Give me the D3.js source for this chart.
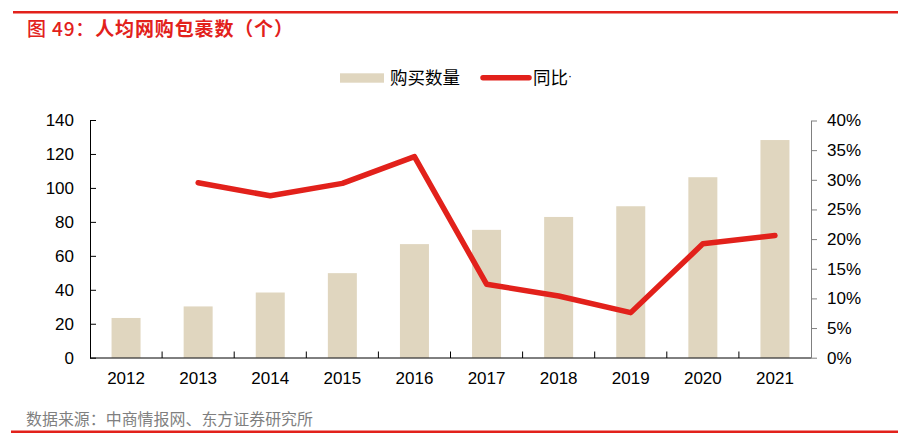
<!DOCTYPE html>
<html><head><meta charset="utf-8">
<script src="https://cdn.jsdelivr.net/npm/d3@7"></script>
<style>body{margin:0;background:#fff}svg{display:block}</style>
</head><body>
<script>
const years = ["2012","2013","2014","2015","2016","2017","2018","2019","2020","2021"];
const parcels = [23.4, 30.2, 38.4, 49.8, 66.9, 75.3, 82.9, 89.2, 106.3, 128.2];
const yoy = [null, 29.5, 27.3, 29.4, 33.9, 12.4, 10.4, 7.6, 19.2, 20.6];
const leftTicks = [0,20,40,60,80,100,120,140];
const rightTicks = [0,5,10,15,20,25,30,35,40];

const W=909,H=435;
const red="#e2211b", barColor="#e0d6bf";
const svg=d3.select("body").append("svg").attr("width",W).attr("height",H);
const numFont="'Liberation Sans', Arial, sans-serif";
const cjkFont="'Noto Sans CJK SC', sans-serif";

// frame lines
svg.append("line").attr("x1",13).attr("x2",898).attr("y1",12.3).attr("y2",12.3).attr("stroke",red).attr("stroke-width",2.5);
svg.append("line").attr("x1",11).attr("x2",898).attr("y1",431.7).attr("y2",431.7).attr("stroke",red).attr("stroke-width",2.5);

const title=svg.append("text").attr("x",27).attr("y",36).attr("fill",red).attr("font-family",cjkFont)
  .attr("font-size",19).attr("textLength",266).attr("lengthAdjust","spacing");
title.append("tspan").attr("font-weight","500").text("图 49：");
title.append("tspan").attr("font-weight","bold").text("人均网购包裹数（个）");

svg.append("text").attr("x",26).attr("y",425).attr("fill","#7f7f7f").attr("font-family",cjkFont)
  .attr("font-size",15.5).attr("textLength",287).attr("lengthAdjust","spacingAndGlyphs").text("数据来源：中商情报网、东方证券研究所");

const xb=d3.scaleBand().domain(years).range([90,811]);
const yL=d3.scaleLinear().domain([0,140]).range([357.7,120]);
const yR=d3.scaleLinear().domain([0,40]).range([357.7,120.5]);

// bars
svg.append("g").selectAll("rect").data(years).join("rect")
  .attr("x",d=>xb(d)+xb.bandwidth()/2-14.5).attr("width",29)
  .attr("y",(d,i)=>yL(parcels[i])).attr("height",(d,i)=>yL(0)-yL(parcels[i]))
  .attr("fill",barColor);

// line
const pts=years.map((d,i)=>({x:xb(d)+xb.bandwidth()/2,v:yoy[i]})).filter(p=>p.v!=null);
svg.append("path").datum(pts).attr("fill","none").attr("stroke",red).attr("stroke-width",5.5)
  .attr("stroke-linejoin","round").attr("stroke-linecap","round")
  .attr("d",d3.line().x(p=>p.x).y(p=>yR(p.v)));

// left axis
const gL=svg.append("g").attr("transform","translate(90,0)")
  .call(d3.axisLeft(yL).tickValues(leftTicks).tickSizeInner(-6).tickSizeOuter(0).tickPadding(16));
gL.select(".domain").attr("stroke","#000");
gL.selectAll(".tick line").attr("stroke","#000");
gL.selectAll("text").attr("font-family",numFont).attr("font-size",17).attr("fill","#000");

// right axis
const gR=svg.append("g").attr("transform","translate(811,0)")
  .call(d3.axisRight(yR).tickValues(rightTicks).tickFormat(d=>d+"%").tickSizeInner(6).tickSizeOuter(0).tickPadding(10));
gR.select(".domain").attr("stroke","#808080");
gR.selectAll(".tick line").attr("stroke","#808080");
gR.selectAll("text").attr("font-family",numFont).attr("font-size",17).attr("fill","#000");

// bottom axis
const gB=svg.append("g").attr("transform","translate(0,358)")
  .call(d3.axisBottom(xb).tickSize(0).tickPadding(14));
gB.select(".domain").attr("stroke","#000").attr("d","M90,0H811");
gB.selectAll("text").attr("font-family",numFont).attr("font-size",17).attr("fill","#000");
svg.append("g").selectAll("line").data(years.slice(1)).join("line")
  .attr("x1",d=>xb(d)).attr("x2",d=>xb(d)).attr("y1",351.5).attr("y2",358).attr("stroke","#000");

// legend
svg.append("rect").attr("x",340).attr("y",73.3).attr("width",44).attr("height",9.4).attr("fill",barColor);
svg.append("text").attr("x",390).attr("y",84).attr("font-family",cjkFont).attr("font-size",17.5).attr("fill","#000").text("购买数量");
svg.append("line").attr("x1",483).attr("x2",529).attr("y1",77.7).attr("y2",77.7).attr("stroke",red).attr("stroke-width",5.5).attr("stroke-linecap","round");
const lt=svg.append("text").attr("x",533).attr("y",84).attr("font-family",cjkFont).attr("font-size",17.5).attr("fill","#000");
lt.append("tspan").text("同比");
lt.append("tspan").attr("font-family",numFont).attr("font-size",12).attr("dy",-4).text("·");
</script>
</body></html>
